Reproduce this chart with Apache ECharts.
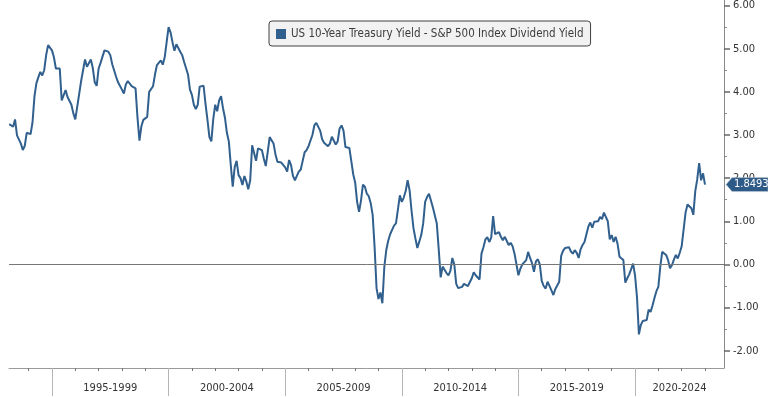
<!DOCTYPE html>
<html>
<head>
<meta charset="utf-8">
<script src="https://cdn.jsdelivr.net/npm/echarts@6/dist/echarts.min.js"></script>
<style>
  html, body { margin: 0; padding: 0; background: #fff; }
  #chart { width: 768px; height: 397px; }
</style>
</head>
<body>
<div id="chart"></div>
<script>
// monthly spread, first value = March 1993
const startYear = 1993;
const startMonth = 2;

const spread1993to1999 = [
    3.25, 3.23, 3.19, 3.36, 2.99, 2.98, 2.80, 2.65, 2.75, 3.05,
    3.07, 3.02, 3.30, 3.90, 4.20, 4.34, 4.46, 4.38, 4.50, 4.85, 5.08, 5.06,
    4.96, 4.80, 4.54, 4.57, 4.54, 3.80, 3.80, 4.04, 3.88, 3.85, 3.70, 3.50,
    3.36, 3.38, 3.95, 4.25, 4.50, 4.75, 4.58, 4.58, 4.75, 4.55, 4.22, 4.14,
    4.54, 4.67, 4.70, 4.96, 4.92, 4.93, 4.85, 4.64, 4.62, 4.35, 4.22, 4.20,
    4.05, 3.96, 4.17, 4.25, 4.26, 4.13, 4.12, 4.08, 3.40, 2.87, 3.20, 3.35,
    3.37, 3.42, 4.00, 4.04, 4.13, 4.40, 4.62, 4.65, 4.73, 4.63, 4.80, 5.15
];
const spread2000to2009 = [
    5.50, 5.38, 5.15, 4.95, 5.10, 5.08, 4.93, 4.85, 4.69, 4.66, 4.40, 4.05,
    3.93, 3.70, 3.60, 3.70, 4.12, 4.15, 4.14, 3.72, 3.35, 2.95, 2.85, 3.38,
    3.70, 3.55, 3.80, 3.90, 3.62, 3.40, 3.05, 2.85, 2.30, 1.80, 2.25, 2.40,
    2.07, 2.00, 1.84, 2.05, 1.92, 1.74, 1.95, 2.76, 2.78, 2.40, 2.69, 2.70,
    2.65, 2.45, 2.28, 2.60, 2.95, 2.97, 2.80, 2.55, 2.38, 2.37, 2.36, 2.32,
    2.25, 2.15, 2.42, 2.30, 2.05, 1.95, 2.05, 2.15, 2.20, 2.40, 2.60, 2.65,
    2.74, 2.77, 3.00, 3.22, 3.28, 3.26, 3.10, 2.90, 2.82, 2.80, 2.74, 2.80,
    2.96, 2.95, 2.78, 2.85, 3.15, 3.22, 3.10, 2.72, 2.70, 2.70, 2.40, 2.09,
    1.90, 1.45, 1.22, 1.48, 1.85, 1.80, 1.64, 1.58, 1.42, 1.15, 0.40, -0.55,
    -0.80, -0.65, -0.90, -0.06, 0.33, 0.55, 0.70, 0.80, 0.90, 0.95, 0.98, 1.60
];
const spread2010to2019 = [
    1.45, 1.55, 1.70, 1.95, 1.72, 1.25, 0.84, 0.60, 0.38, 0.53, 0.68, 0.95,
    1.45, 1.56, 1.64, 1.60, 1.32, 1.28, 0.95, 0.35, -0.30, -0.05, -0.04, -0.20,
    -0.25, -0.15, 0.15, 0.00, -0.45, -0.55, -0.57, -0.52, -0.45, -0.43, -0.50, -0.50,
    -0.32, -0.18, -0.25, -0.27, -0.35, 0.25, 0.40, 0.58, 0.63, 0.52, 0.62, 1.12,
    0.70, 0.72, 0.75, 0.64, 0.56, 0.64, 0.60, 0.45, 0.50, 0.42, 0.25, 0.22,
    -0.25, -0.10, 0.00, -0.03, 0.10, 0.29, 0.15, 0.03, -0.17, 0.07, 0.12, 0.00,
    -0.38, -0.50, -0.56, -0.40, -0.36, -0.60, -0.71, -0.57, -0.55, -0.40, 0.20, 0.32,
    0.38, 0.40, 0.40, 0.30, 0.25, 0.33, 0.27, 0.15, 0.35, 0.45, 0.52, 0.56,
    0.88, 0.97, 0.85, 0.99, 0.97, 1.00, 1.10, 1.05, 1.20, 1.18, 1.00, 0.58,
    0.68, 0.52, 0.64, 0.48, 0.18, 0.14, 0.10, -0.42, -0.32, -0.23, -0.11, 0.02
];
const spread2020to2023 = [
    -0.25, -0.75, -1.62, -1.40, -1.31, -1.29, -1.29, -1.05, -1.10, -0.95, -0.78, -0.62,
    -0.52, -0.05, 0.29, 0.26, 0.22, 0.10, -0.09, -0.02, 0.11, 0.22, 0.14, 0.27,
    0.42, 0.41, 1.20, 1.39, 1.35, 1.30, 1.15, 1.70, 1.97, 2.35, 1.95, 2.11,
    1.8493
];

const periodStarts = [1995, 2000, 2005, 2010, 2015, 2020];
const yTickValues = [-2, -1, 0, 1, 2, 3, 4, 5, 6];
const yMinorValues = [-2.5, -1.5, -0.5, 0.5, 1.5, 2.5, 3.5, 4.5, 5.5];
const seriesName = 'US 10-Year Treasury Yield - S&P 500 Index Dividend Yield';

const xMin = 1993.157;
const xMax = 2023.815;
const yMin = -2.4;
const yMax = 6.12;

const spread = spread1993to1999.concat(spread2000to2009, spread2010to2019, spread2020to2023);
const lineData = spread.map((v, i) => [startYear + (startMonth + i) / 12, v]);
const lastValue = spread[spread.length - 1];

const yearTicks = [];
for (let y = Math.ceil(xMin); y <= Math.floor(xMax); y++) {
    yearTicks.push(y);
}
const labelCenters = periodStarts.map(s => (Math.max(s, xMin) + Math.min(s + 5, xMax)) / 2);

const font = "'DejaVu Sans Condensed', 'Liberation Sans', sans-serif";
const lineColor = '#31608e';

const chart = echarts.init(document.getElementById('chart'));

chart.setOption({
    animation: false,
    grid: { left: 9, right: 44, top: 0, bottom: 29 },
    legend: {
        left: 269,
        top: 21,
        data: [seriesName],
        icon: 'rect',
        itemWidth: 10,
        itemHeight: 10,
        padding: [7, 7, 6, 7],
        backgroundColor: '#f2f2f2',
        borderColor: '#404040',
        borderWidth: 1,
        borderRadius: 3,
        textStyle: { color: '#3c3c3c', fontSize: 11.5, fontFamily: font }
    },
    xAxis: [
        {
            type: 'value',
            min: xMin,
            max: xMax,
            splitLine: { show: false },
            axisLine: { show: true, onZero: false, lineStyle: { color: '#9a9a9a', width: 1 } },
            axisTick: { show: true, customValues: yearTicks, length: 3, lineStyle: { color: '#777' } },
            axisLabel: {
                customValues: labelCenters,
                margin: 15,
                color: '#333',
                fontSize: 11,
                fontFamily: font,
                formatter: v => {
                    const s = Math.floor(v / 5) * 5;
                    return s + '-' + (s + 4);
                }
            }
        },
        {
            type: 'value',
            min: xMin,
            max: xMax,
            position: 'bottom',
            splitLine: { show: false },
            axisLine: { show: false, onZero: false },
            axisTick: { show: true, customValues: periodStarts, length: 28, lineStyle: { color: '#b5b5b5' } },
            axisLabel: { show: false }
        }
    ],
    yAxis: [
        {
            type: 'value',
            position: 'right',
            min: yMin,
            max: yMax,
            splitLine: { show: false },
            axisLine: { show: true, onZero: false, lineStyle: { color: '#8a8a8a', width: 1 } },
            axisTick: { show: true, customValues: yTickValues, length: 6, lineStyle: { color: '#666', width: 1.5 } },
            axisLabel: {
                customValues: yTickValues,
                margin: 9,
                color: '#333',
                fontSize: 11,
                fontFamily: font,
                formatter: v => v.toFixed(2)
            }
        },
        {
            type: 'value',
            position: 'right',
            min: yMin,
            max: yMax,
            splitLine: { show: false },
            axisLine: { show: false, onZero: false },
            axisTick: { show: true, customValues: yMinorValues, length: 3, lineStyle: { color: '#888' } },
            axisLabel: { show: false }
        }
    ],
    series: [
        {
            name: seriesName,
            type: 'line',
            data: lineData,
            showSymbol: false,
            itemStyle: { color: lineColor },
            lineStyle: { color: lineColor, width: 2 },
            markLine: {
                silent: true,
                symbol: 'none',
                label: { show: false },
                lineStyle: { color: '#777', width: 1, type: 'solid' },
                data: [{ yAxis: 0 }]
            },
            z: 3
        }
    ]
});

// last value tag on the right axis
const yPix = chart.convertToPixel({ yAxisIndex: 0 }, lastValue);
const axisX = chart.convertToPixel({ xAxisIndex: 0 }, xMax);
chart.setOption({
    graphic: [
        {
            type: 'polygon',
            shape: {
                points: [
                    [axisX + 2, yPix],
                    [axisX + 8, yPix - 7],
                    [768, yPix - 7],
                    [768, yPix + 7],
                    [axisX + 8, yPix + 7]
                ]
            },
            style: { fill: '#2d5a86', stroke: '#c8d3de', lineWidth: 0.5 },
            z: 100
        },
        {
            type: 'text',
            x: axisX + 10,
            y: yPix,
            style: {
                text: lastValue.toFixed(4),
                fill: '#fff',
                font: '11px ' + font,
                verticalAlign: 'middle'
            },
            z: 101
        }
    ]
});
</script>
</body>
</html>
